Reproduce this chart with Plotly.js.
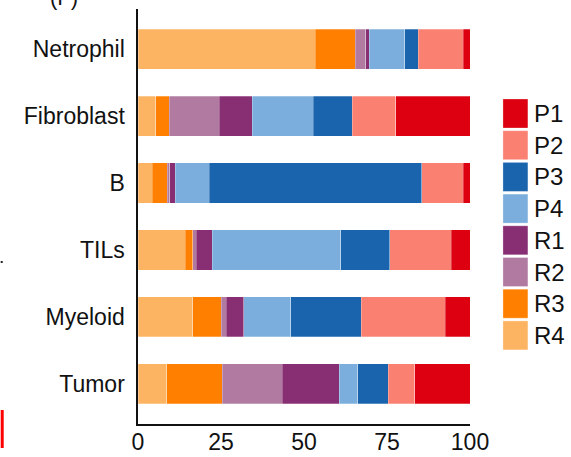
<!DOCTYPE html>
<html>
<head>
<meta charset="utf-8">
<script src="https://cdn.plot.ly/plotly-3.0.1.min.js"></script>
<style>html,body{margin:0;padding:0;background:#fff;}#chart{width:571px;height:457px;}</style>
</head>
<body>
<div id="chart"></div>
<script>
// Categories, top to bottom
var categories = ['Netrophil', 'Fibroblast', 'B', 'TILs', 'Myeloid', 'Tumor'];
// Series in stacking order (left to right); values in % per category
var seriesNames = ['R4', 'R3', 'R2', 'R1', 'P4', 'P3', 'P2', 'P1'];
var R4 = [53.4, 5.4, 4.3, 14.2, 16.5, 8.6];
var R3 = [12.1, 4.0, 4.5, 2.3, 8.6, 16.7];
var R2 = [3.1, 15.0, 0.8, 1.0, 1.5, 18.1];
var R1 = [1.0, 10.0, 1.6, 4.8, 5.2, 17.2];
var P4 = [10.7, 18.4, 10.2, 38.7, 14.2, 5.6];
var P3 = [4.1, 11.8, 64.1, 14.9, 21.2, 9.1];
var P2 = [13.5, 13.0, 12.5, 18.5, 25.4, 8.1];
var P1 = [2.1, 22.4, 2.0, 5.6, 7.4, 16.6];
var xTicks = [0, 25, 50, 75, 100];
var legendOrder = ['P1', 'P2', 'P3', 'P4', 'R1', 'R2', 'R3', 'R4'];

var seriesValues = {R4: R4, R3: R3, R2: R2, R1: R1, P4: P4, P3: P3, P2: P2, P1: P1};
var colors = {
  P1: '#DC0010', P2: '#FA8072', P3: '#1A63AD', P4: '#7BAEDC',
  R1: '#882E72', R2: '#B07AA1', R3: '#FF8000', R4: '#FDB462'
};

var FONT = 'Liberation Sans, Arial, Helvetica, sans-serif';
var W = 571, H = 457;
var mL = 137.5, mR = 101, mT = 9, mB = 33;
var pw = W - mL - mR, ph = H - mT - mB;
function px(x) { return (x - mL) / pw; }
function py(y) { return (H - mB - y) / ph; }

var traces = seriesNames.map(function (n) {
  return {
    type: 'bar', orientation: 'h', name: n,
    x: seriesValues[n], y: categories,
    width: 0.6,
    marker: {color: colors[n], line: {color: 'rgba(255,255,255,0.45)', width: 0.6}},
    showlegend: false, hoverinfo: 'name+x'
  };
});

var shapes = [];
var annotations = [];
// manual legend
var legTop = 99, step = 31.7, sqH = 29, sqX0 = 503, sqX1 = 528;
legendOrder.forEach(function (n, i) {
  var yc = legTop + sqH / 2 + i * step;
  shapes.push({type: 'rect', xref: 'paper', yref: 'paper',
    x0: px(sqX0), x1: px(sqX1), y0: py(yc - sqH / 2), y1: py(yc + sqH / 2),
    fillcolor: colors[n], line: {width: 0.5, color: 'rgba(255,255,255,0.6)'}});
  annotations.push({xref: 'paper', yref: 'paper', x: px(532), y: py(yc),
    xanchor: 'left', yanchor: 'middle', text: n, showarrow: false,
    font: {family: FONT, size: 24, color: '#111'}});
});
// cropped panel-letter and margin fragments of the source figure
annotations.push({xref: 'paper', yref: 'paper', x: px(63), y: py(12),
  xanchor: 'center', yanchor: 'bottom', text: '(F)', showarrow: false,
  font: {family: FONT, size: 22, color: '#111'}});
shapes.push({type: 'rect', xref: 'paper', yref: 'paper',
  x0: px(0), x1: px(3), y0: py(448), y1: py(410), fillcolor: '#FF0000', line: {width: 0}});
shapes.push({type: 'rect', xref: 'paper', yref: 'paper',
  x0: px(0), x1: px(2), y0: py(263), y1: py(261), fillcolor: '#222', line: {width: 0}});

var layout = {
  width: W, height: H,
  margin: {l: mL, r: mR, t: mT, b: mB, pad: 0},
  paper_bgcolor: '#fff', plot_bgcolor: '#fff',
  barmode: 'stack', bargap: 0.4,
  showlegend: false,
  xaxis: {
    range: [0, 100], tickvals: xTicks, ticktext: xTicks.map(String),
    showgrid: false, zeroline: false, showline: true, linecolor: '#111', linewidth: 1.6,
    ticks: '', ticklabelstandoff: -3,
    tickfont: {family: FONT, size: 23, color: '#111'}
  },
  yaxis: {
    range: [5.6, -0.6], type: 'category', categoryorder: 'array', categoryarray: categories,
    showgrid: false, zeroline: false, showline: true, linecolor: '#111', linewidth: 1.6,
    ticks: '', ticklabelstandoff: 7,
    tickfont: {family: FONT, size: 23, color: '#111'}
  },
  shapes: shapes,
  annotations: annotations
};

Plotly.newPlot('chart', traces, layout, {displayModeBar: false, staticPlot: true});
</script>
</body>
</html>
